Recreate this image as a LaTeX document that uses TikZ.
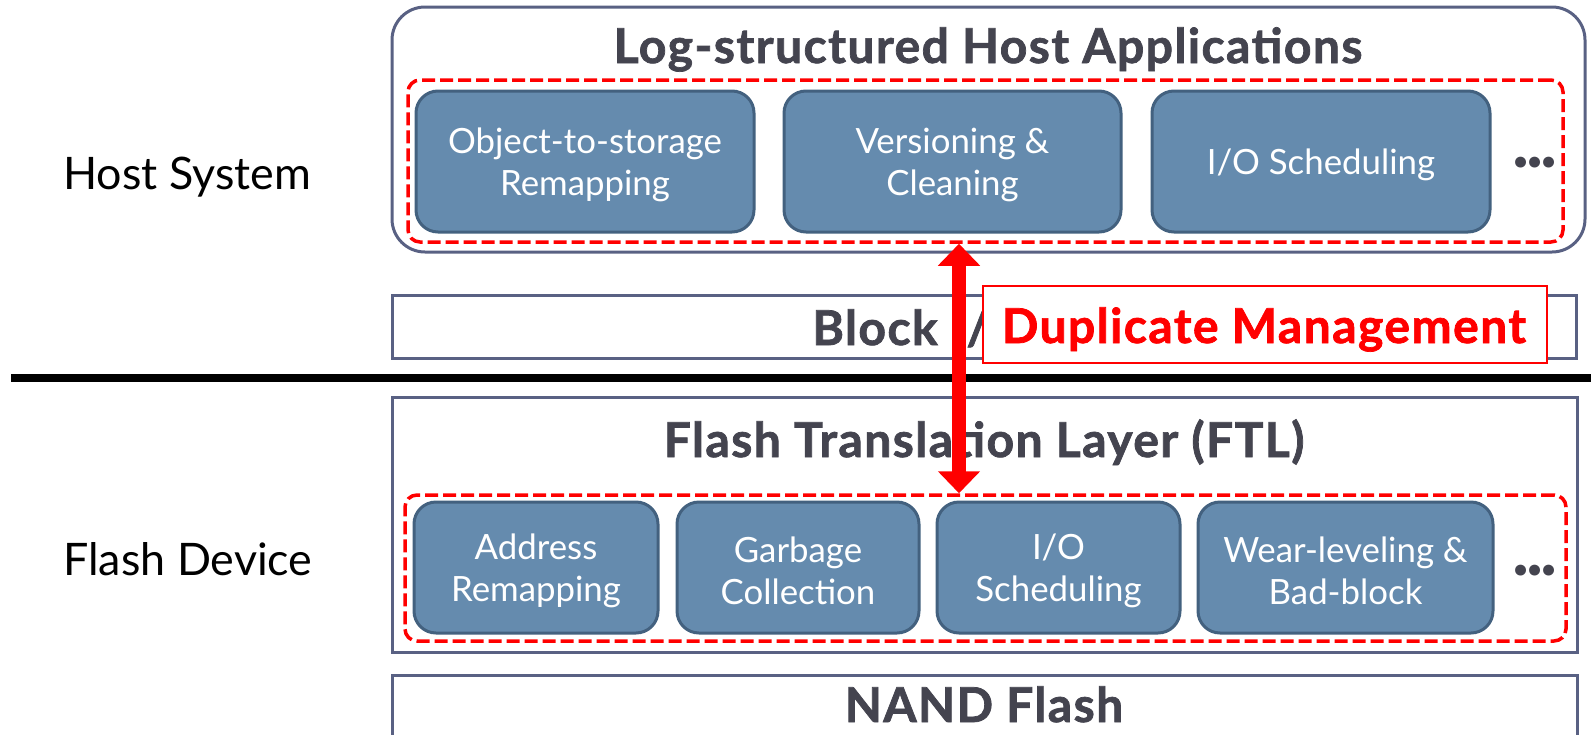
\documentclass[tikz,border=0pt]{standalone}
\usepackage{fontspec}
\setmainfont{Lato}
\newfontfamily\headfont{Lato}[BoldFeatures={FakeBold=1.5, LetterSpace=3}]
\usetikzlibrary{arrows.meta}
\definecolor{frame}{HTML}{596183}
\definecolor{ink}{HTML}{44444F}
\definecolor{modfill}{HTML}{658BAE}
\definecolor{moddraw}{HTML}{43617F}
\definecolor{alert}{HTML}{FF0000}

\begin{document}
\begin{tikzpicture}[x=0.5pt,y=-0.5pt,
  layerbox/.style={draw=frame, line width=1.5pt, fill=white, inner sep=0pt},
  groupbox/.style={draw=alert, line width=1.75pt, dash pattern=on 6.5pt off 2.5pt,
    rounded corners=6pt, inner sep=0pt},
  module/.style={draw=moddraw, line width=1.5pt, fill=modfill, rounded corners=11pt, inner sep=0pt},
  modtext/.style={text=white, align=center, font=\fontsize{17.4}{21}\selectfont,
    inner sep=0pt, yshift=-1.5pt},
  heading/.style={text=ink, font=\headfont\fontsize{24}{28}\selectfont\bfseries, inner sep=0pt, anchor=base},
  sidelabel/.style={font=\fontsize{22.4}{27}\selectfont, inner sep=0pt, anchor=base west},
  moredots/.style={text=ink, font=\fontsize{36}{38}\selectfont\bfseries, inner sep=0pt},
  twoway/.style={alert, line width=7pt,
    {Triangle[width=20.5pt,length=11pt]}-{Triangle[width=20.5pt,length=11pt]}}
]
\useasboundingbox (0,0) rectangle (1591,734);

% side labels
\node[sidelabel] (hostlbl) at (63,189) {Host System};
\node[sidelabel] (flashlbl) at (63,575) {Flash Device};

% host layer
\node[layerbox, rounded corners=16.5pt, minimum width=596.5pt, minimum height=122.5pt]
  (host) at (988.5,129.5) {};
\node[heading] (hosttitle) at (988,63) {Log-structured Host Applications};
\node[groupbox, minimum width=577.5pt, minimum height=81pt] (hostgrp) at (985.5,161) {};
\node[module, minimum width=169pt, minimum height=70.5pt] (obj) at (585,161.5) {};
\node[modtext] (objtxt) at (obj.center) {Object-to-storage\\Remapping};
\node[module, minimum width=168.5pt, minimum height=70.5pt] (ver) at (952.5,161.5) {};
\node[modtext] (vertxt) at (ver.center) {Versioning \&\\Cleaning};
\node[module, minimum width=169pt, minimum height=70.5pt] (hostio) at (1321,161.5) {};
\node[modtext] (hostiotxt) at (hostio.center) {I/O Scheduling};
\node[moredots] (hostmore) at (1535,163) {.\kern-1.6pt.\kern-1.6pt.};

% block interface
\node[layerbox, minimum width=592pt, minimum height=31.5pt] (blockio) at (984,326.5) {};
\node[heading, anchor=base west] (blocktext) at (812,345) {Block I/O};

% host / device boundary
\coordinate (divL) at (11,378);
\coordinate (divR) at (1591,378);
\draw[line width=3.75pt] (divL) -- (divR);

% flash translation layer
\node[layerbox, minimum width=592.5pt, minimum height=127.5pt] (ftl) at (984.5,524.5) {};
\node[heading] (ftltitle) at (984,457) {Flash Translation Layer (FTL)};
\node[groupbox, minimum width=580.5pt, minimum height=73pt] (ftlgrp) at (985.5,568) {};
\node[module, minimum width=122pt, minimum height=65.5pt] (addr) at (536,567.5) {};
\node[modtext] (addrtxt) at (addr.center) {Address\\Remapping};
\node[module, minimum width=121pt, minimum height=65.5pt] (gc) at (798,567.5) {};
\node[modtext] (gctxt) at (gc.center) {Garbage\\Collection};
\node[module, minimum width=121.5pt, minimum height=65.5pt] (ftlio) at (1058.5,567.5) {};
\node[modtext] (ftliotxt) at (ftlio.center) {I/O\\Scheduling};
\node[module, minimum width=147.5pt, minimum height=65.5pt] (wear) at (1345.5,567.5) {};
\node[modtext] (weartxt) at (wear.center) {Wear-leveling \&\\Bad-block};
\node[moredots] (ftlmore) at (1535,571) {.\kern-1.6pt.\kern-1.6pt.};

% NAND flash
\node[layerbox, minimum width=592.5pt, minimum height=45pt] (nand) at (984.5,720) {};
\node[heading] (nandtext) at (984,722) {NAND Flash};

% duplicated management across the two layers
\coordinate (ax) at (959,0);
\draw[twoway] (ax |- hostgrp.south) -- (ax |- ftlgrp.north);
\node[draw=alert, line width=1pt, fill=white, inner sep=0pt,
  minimum width=282pt, minimum height=38.5pt] (dup) at (1265,324.5) {};
\node[heading, text=alert] (duptext) at (1264,343) {Duplicate Management};
\end{tikzpicture}
\end{document}
